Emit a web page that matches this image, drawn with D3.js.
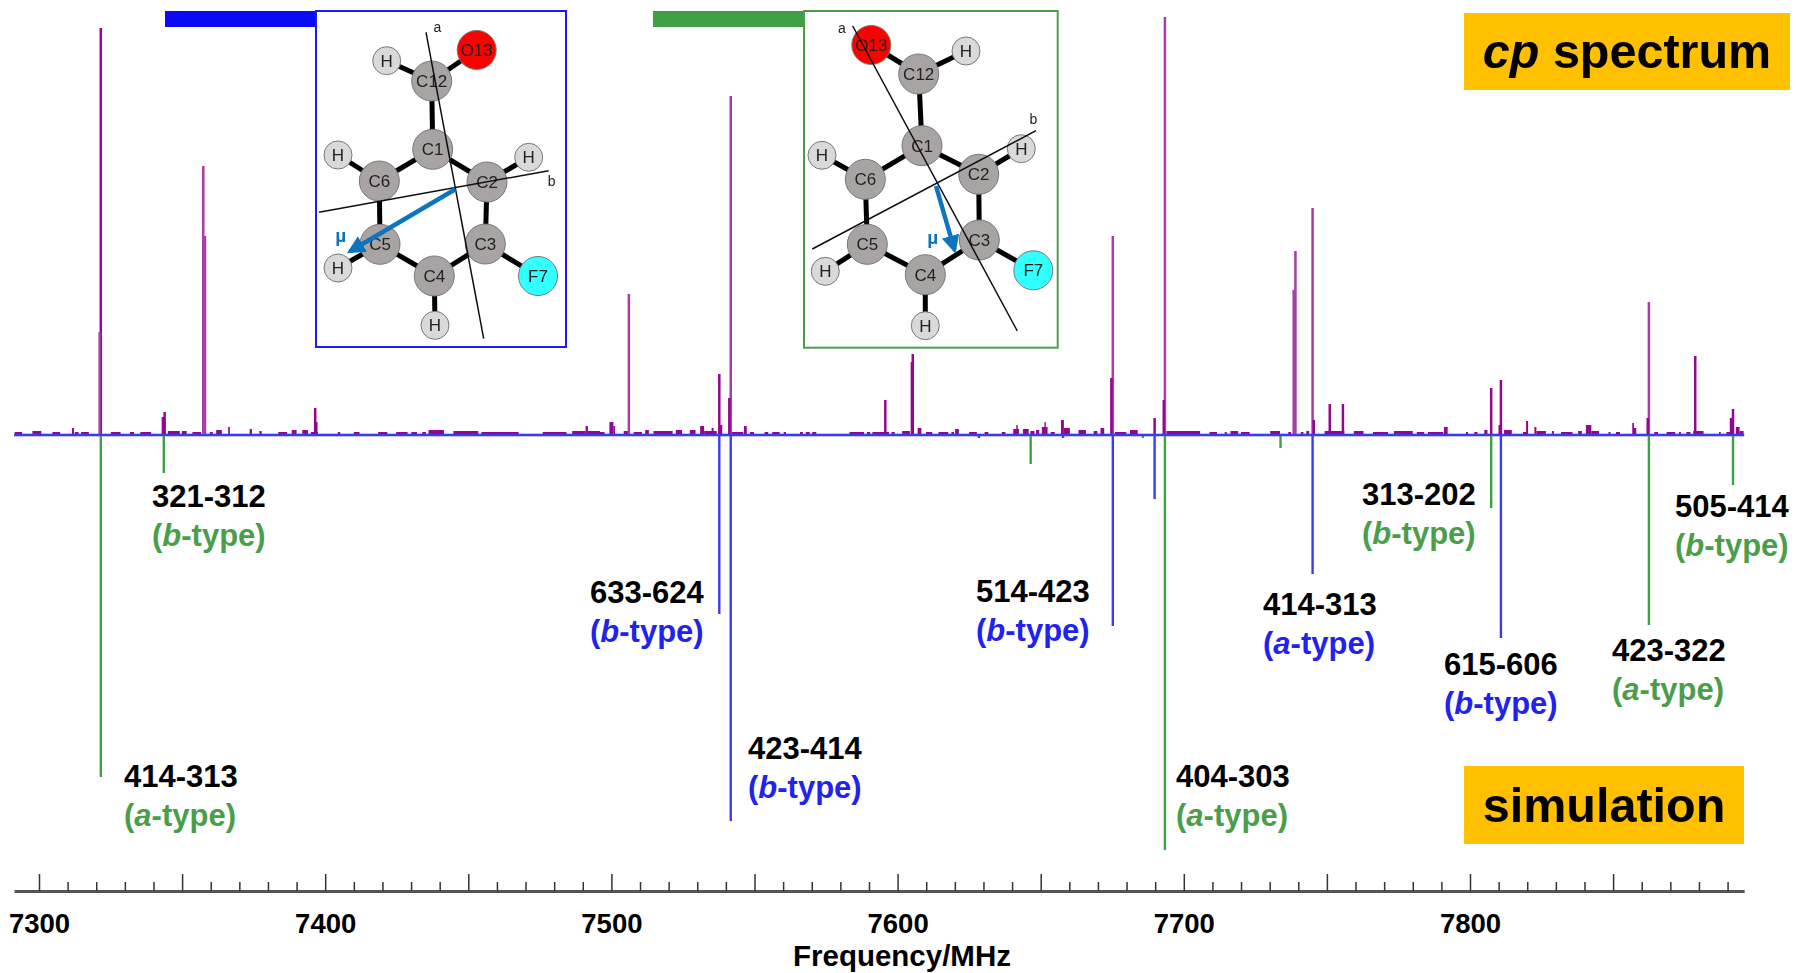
<!DOCTYPE html>
<html><head><meta charset="utf-8">
<script src="https://cdnjs.cloudflare.com/ajax/libs/d3/7.8.5/d3.min.js"></script>
<style>html,body{margin:0;padding:0;background:#fff}svg{display:block}text{font-family:"Liberation Sans",Arial,sans-serif}</style>
</head><body><svg id="c" width="1796" height="973"></svg>
<script>
// ---------- DATA (MHz, intensity in arbitrary units) ----------
const peakFreq=[7321.6,7321.2,7343.9,7343.3,7357.4,7358.0,7396.5,7396.9,7506.1,7537.7,7538.3,7541.7,7541.2,7595.7,7605.3,7605.0,7675.2,7674.7,7689.8,7693.4,7693.0,7738.4,7738.8,7739.0,7745.0,7745.4,7751.0,7755.6,7807.4,7810.8,7810.4,7862.5,7862.1,7878.7,7891.9,7891.2];
const peakInt =[407,103,23,18,269,199,27,13,141,61,10,339,37,35,81,73,199,57,17,418,35,145,145,184,227,15,31,31,47,55,10,133,17,79,26,17];
const noiseStart=[7291.5,7297.7,7304.7,7311.5,7312.5,7314.7,7325.1,7331.8,7335.4,7345,7349.9,7353.6,7359.7,7361.9,7366.1,7373.6,7377,7383.6,7388.3,7392,7395,7404.4,7410,7418.5,7424.8,7430.1,7433.9,7436.1,7444.8,7454.6,7476,7486.3,7491,7491.8,7496,7499.3,7500.7,7504.3,7507.8,7511.8,7514.7,7522.5,7527.4,7531,7532.4,7535,7542.1,7546.3,7548.4,7553.5,7556.2,7560.2,7565.9,7567.9,7570.2,7583.2,7589.3,7591.2,7597.9,7601.6,7607,7609.9,7614.3,7618.8,7620.1,7625,7630.4,7636.4,7640.4,7641.5,7643.8,7646.4,7648.4,7650.4,7651.3,7653.5,7657.1,7658.1,7663.2,7668.5,7670.9,7675.9,7681.2,7693.9,7709,7714.3,7716.3,7720,7730.2,7736.5,7740.9,7742.8,7749.2,7759.4,7766.1,7773.4,7781.4,7785.3,7790.9,7798.6,7801.5,7805,7811.9,7818.5,7819.6,7822.5,7823.2,7828.6,7831.8,7837.8,7840.5,7842.4,7848.4,7851,7856.7,7857.3,7864.4,7868.7,7873,7875.6,7878,7887,7889.6,7892.9,7894.2];
const noiseEnd  =[7294.1,7300.8,7307.4,7312.2,7313.8,7317.4,7328.5,7333.2,7339.2,7349.2,7351.6,7356.6,7360.7,7363.9,7366.7,7374.4,7377.8,7386.7,7390,7394,7397.4,7405.2,7412,7421.7,7428.8,7432.1,7435.2,7441.5,7453.5,7467.6,7484.3,7491,7491.8,7496,7497.6,7500.7,7501.3,7506,7510.7,7513.1,7521.4,7524.7,7529.4,7532.4,7536.8,7535.7,7546.1,7547.3,7549.8,7554.8,7558.8,7561,7566.9,7569.3,7571.6,7588.3,7590.4,7597,7599,7604.3,7608.3,7612.1,7617.7,7619.7,7621.4,7627.7,7631.7,7637.7,7642.4,7642,7645.8,7647.8,7649.5,7652.4,7651.7,7654.9,7658.1,7660.2,7665.8,7669.8,7672.2,7679.9,7683.9,7705.7,7711.6,7715,7719,7723,7733.6,7737.5,7741.8,7743.8,7756.1,7762.8,7771.4,7780,7784,7790.7,7792.2,7799.3,7802.6,7806.1,7814.6,7819.9,7820.3,7823.2,7826.5,7829.3,7835.8,7839.1,7842.4,7845.1,7849.1,7852.4,7857.3,7858.1,7865.7,7871.7,7873.7,7877,7881.6,7887.6,7891,7894.2,7895.6];
const noiseInt  =[3,4,3,7,3,3,3,3,3,4,4,3,3,5,8,6,4,3,5,5,3,3,3,3,3,3,3,5,4,3,3,4,9,4,3,13,9,4,3,5,4,5,5,9,4,7,3,9,3,3,3,3,3,3,3,3,3,3,3,4,7,3,3,3,6,3,3,3,6,10,6,4,5,8,13,3,15,7,5,4,7,3,5,4,3,3,4,3,4,3,3,4,4,4,3,4,3,3,8,3,3,5,5,3,14,8,4,4,3,4,10,4,3,3,12,7,3,3,3,3,4,3,3,8,4];
const greenFreq=[7321.6,7343.6,7646.5,7685.7,7693.4,7733.8,7807.4,7862.5,7891.9];
const greenInt =[342,38,29,3,415,13,73,190,50];
const blueFreq =[7537.7,7541.7,7628.4,7657.8,7675.2,7689.8,7745.0,7810.8];
const blueInt  =[179,386,3,3,191,64,139,203];
const transitions=["321-312","414-313","633-624","423-414","514-423","404-303","414-313","313-202","615-606","423-322","505-414"];
const typeLetters=["b","a","b","b","b","a","a","b","b","a","b"];
const typeGroups =["g","g","b","b","b","g","b","g","b","g","g"];
const xTickValues=d3.range(7300,7900,10);
const xTickLabels=[7300,7400,7500,7600,7700,7800];
const atomNames=["C1","C2","C3","C4","C5","C6","C12","O13","F7","H","H","H","H","H"];
const bondList=[[6,7],[6,9],[6,0],[0,5],[0,1],[5,4],[1,2],[4,3],[2,3],[5,10],[1,11],[4,12],[3,13],[2,8]];

// ---------- LAYOUT ----------
const svg=d3.select("#c");
const x=d3.scaleLinear().domain([7300,7800]).range([39,1470]);
const y=d3.scaleLinear().domain([-500,500]).range([935,-65]);
const COL={g:"#3fa043",b:"#3b3bf2",purple:"#93078f",lab:"#000",blueText:"#2222ee",greenText:"#4a9e4a"};
const fLeft=7291.3,fRight=7895.8;

const labelX=[152,124,590,748,976,1176,1263,1362,1444,1612,1675];
const labelY=[496.5,776.5,592.5,748.5,591.5,776.5,604.5,494.5,664.5,650.5,506.5];
const atomsA=[[432.7,149.3],[487,182],[485.3,244],[434.3,276],[380,244.3],[379.3,181],[431.7,81],[476.7,50],[538,276],[386.7,60.7],[338,155],[528.7,157.3],[338,268],[435,325.3]];
const atomsB=[[922,145.7],[978.7,174.3],[979.3,240],[925.3,274.7],[867.3,244.3],[865.3,179.3],[918.7,74],[871.3,45],[1033.3,270.3],[966,51],[822,155.3],[1021.3,148.7],[825.3,271.3],[925.3,325.7]];

const defs=svg.append("defs");
defs.append("filter").attr("id","soft").append("feGaussianBlur").attr("stdDeviation",0.55);
defs.append("marker").attr("id","aBlue").attr("viewBox","0 0 10 10").attr("refX",8).attr("refY",5)
  .attr("markerWidth",4).attr("markerHeight",4).attr("orient","auto").attr("markerUnits","strokeWidth")
  .append("path").attr("d","M0,0L10,5L0,10z").attr("fill","#0f75c0");

const zero=y(0);
// baseline halo under everything
svg.append("line").attr("x1",x(fLeft)).attr("x2",x(fRight)).attr("y1",zero).attr("y2",zero).attr("stroke","#c4c4ff").attr("stroke-width",4);
// noise + peaks
svg.append("g").selectAll("rect").data(d3.range(noiseStart.length)).join("rect")
  .attr("x",i=>x(noiseStart[i])).attr("width",i=>Math.max(1.4,x(noiseEnd[i])-x(noiseStart[i])))
  .attr("y",i=>y(noiseInt[i])).attr("height",i=>zero-y(noiseInt[i])).attr("fill",COL.purple);
svg.append("g").selectAll("line").data(d3.range(peakFreq.length)).join("line")
  .attr("x1",i=>x(peakFreq[i])).attr("x2",i=>x(peakFreq[i])).attr("y1",zero).attr("y2",i=>y(peakInt[i]))
  .attr("stroke",i=>peakInt[i]>100&&i!=0?"#a63ea6":COL.purple).attr("stroke-width",2.5);

// simulation sticks
const sticks=(f,v,c)=>svg.append("g").selectAll("line").data(f).join("line")
  .attr("x1",d=>x(d)).attr("x2",d=>x(d)).attr("y1",zero).attr("y2",(d,i)=>y(-v[i]))
  .attr("stroke",c).attr("stroke-width",2.4);
sticks(greenFreq,greenInt,COL.g);
sticks(blueFreq,blueInt,COL.b);
svg.append("line").attr("x1",x(fLeft)).attr("x2",x(fRight)).attr("y1",zero).attr("y2",zero).attr("stroke","#3a3af5").attr("stroke-width",1.8);

// axis
const xr=d3.scaleLinear().domain([fLeft,fRight]).range([x(fLeft),x(fRight)]);
const axY=891;
const axT=svg.append("g").attr("transform",`translate(0,${axY})`)
  .call(d3.axisTop(xr).tickValues(xTickValues).tickSizeInner(9).tickSizeOuter(0).tickFormat(""));
axT.selectAll(".tick line").attr("stroke","#333").attr("stroke-width",1.5)
  .attr("y2",function(d){return d%50===0?-17:-9;});
axT.select(".domain").attr("stroke","#555").attr("stroke-width",2.8);
const axB=svg.append("g").attr("transform",`translate(0,${axY})`)
  .call(d3.axisBottom(xr).tickValues(xTickLabels).tickSize(0).tickPadding(22).tickFormat(d3.format("d")));
axB.select(".domain").remove();
axB.selectAll("text").attr("font-size",27.5).attr("font-weight","bold").attr("font-family","Liberation Sans").attr("fill","#000");
svg.append("text").attr("x",902).attr("y",956).attr("dy","0.35em").attr("text-anchor","middle")
  .attr("font-size",29.5).attr("font-weight","bold").text("Frequency/MHz");

// transition labels
const lab=svg.append("g").selectAll("g").data(d3.range(transitions.length)).join("g")
  .attr("transform",i=>`translate(${labelX[i]},${labelY[i]})`);
lab.append("text").attr("dy","0.35em").attr("font-size",31).attr("font-weight","bold").attr("fill",COL.lab).text(i=>transitions[i]);
lab.append("text").attr("y",39).attr("dy","0.35em").attr("font-size",31).attr("font-weight","bold")
  .attr("fill",i=>typeGroups[i]==="g"?COL.greenText:COL.blueText)
  .each(function(i){const t=d3.select(this);
    t.append("tspan").text("(");t.append("tspan").attr("font-style","italic").text(typeLetters[i]);t.append("tspan").text("-type)");});

// badges
const badge=(bx,by,bw,bh,fn)=>{svg.append("rect").attr("x",bx).attr("y",by).attr("width",bw).attr("height",bh).attr("fill","#ffc000");
  fn(svg.append("text").attr("x",bx+bw/2).attr("y",by+bh/2).attr("dy","0.35em").attr("text-anchor","middle").attr("font-size",48.5).attr("font-weight","bold").attr("fill","#000"));};
badge(1464,13,326,77,t=>{t.append("tspan").attr("font-style","italic").text("cp");t.append("tspan").text(" spectrum");});
badge(1464,766,280,78,t=>t.text("simulation"));

// conformer bars
svg.append("rect").attr("x",165).attr("y",11).attr("width",152).attr("height",16).attr("fill","#0a0af5");
svg.append("rect").attr("x",653).attr("y",11).attr("width",152).attr("height",16).attr("fill","#3f9f45");

// molecule insets
function mol(box,col,atoms,axA,axB_,la,lb,arrow,mu){
  svg.append("rect").attr("x",box[0]).attr("y",box[1]).attr("width",box[2]-box[0]).attr("height",box[3]-box[1])
    .attr("fill","#fff").attr("stroke",col).attr("stroke-width",2);
  const g=svg.append("g").attr("filter","url(#soft)");
  g.selectAll("line.b").data(bondList).join("line").attr("class","b")
    .attr("x1",d=>atoms[d[0]][0]).attr("y1",d=>atoms[d[0]][1]).attr("x2",d=>atoms[d[1]][0]).attr("y2",d=>atoms[d[1]][1])
    .attr("stroke","#000").attr("stroke-width",5);
  const fill=n=>n==="H"?"#d9d9d9":n==="O13"?"#ff0000":n==="F7"?"#33ffff":"#a8a4a4";
  const rad=n=>n==="H"?14:n==="O13"||n==="F7"?19.5:20;
  const ag=g.selectAll("g.a").data(atomNames).join("g").attr("class","a").attr("transform",(d,i)=>`translate(${atoms[i]})`);
  ag.append("circle").attr("r",rad).attr("fill",fill).attr("stroke","#777").attr("stroke-width",1);
  ag.append("text").attr("dy","0.36em").attr("text-anchor","middle").attr("font-size",17).attr("fill","#222").text(d=>d);
  [axA,axB_].forEach(a=>g.append("line").attr("x1",a[0]).attr("y1",a[1]).attr("x2",a[2]).attr("y2",a[3]).attr("stroke","#111").attr("stroke-width",1.5));
  g.append("line").attr("x1",arrow[0]).attr("y1",arrow[1]).attr("x2",arrow[2]).attr("y2",arrow[3]).attr("stroke","#0f75c0").attr("stroke-width",4.5).attr("marker-end","url(#aBlue)");
  g.append("text").attr("x",la[0]).attr("y",la[1]).attr("dy","0.35em").attr("text-anchor","middle").attr("font-size",14).attr("fill","#222").text("a");
  g.append("text").attr("x",lb[0]).attr("y",lb[1]).attr("dy","0.35em").attr("text-anchor","middle").attr("font-size",14).attr("fill","#222").text("b");
  g.append("text").attr("x",mu[0]).attr("y",mu[1]).attr("dy","0.35em").attr("text-anchor","middle").attr("font-size",19).attr("font-weight","bold").attr("fill","#0f75c0").text("µ");
}
mol([316,11,566,347],"#1a1aff",atomsA,[426,32.3,483.7,338.7],[319,212.3,548.7,170.7],[437.3,27.3],[551.7,181],[455.3,189.3,350,251.3],[340.7,235]);
mol([804,11,1057.7,347.7],"#4a9e4a",atomsB,[852.7,26,1017.3,331],[1036,130.7,812.3,249],[842,28.3],[1033.3,119],[936,186,954.5,250],[932.7,237.7]);
</script></body></html>
